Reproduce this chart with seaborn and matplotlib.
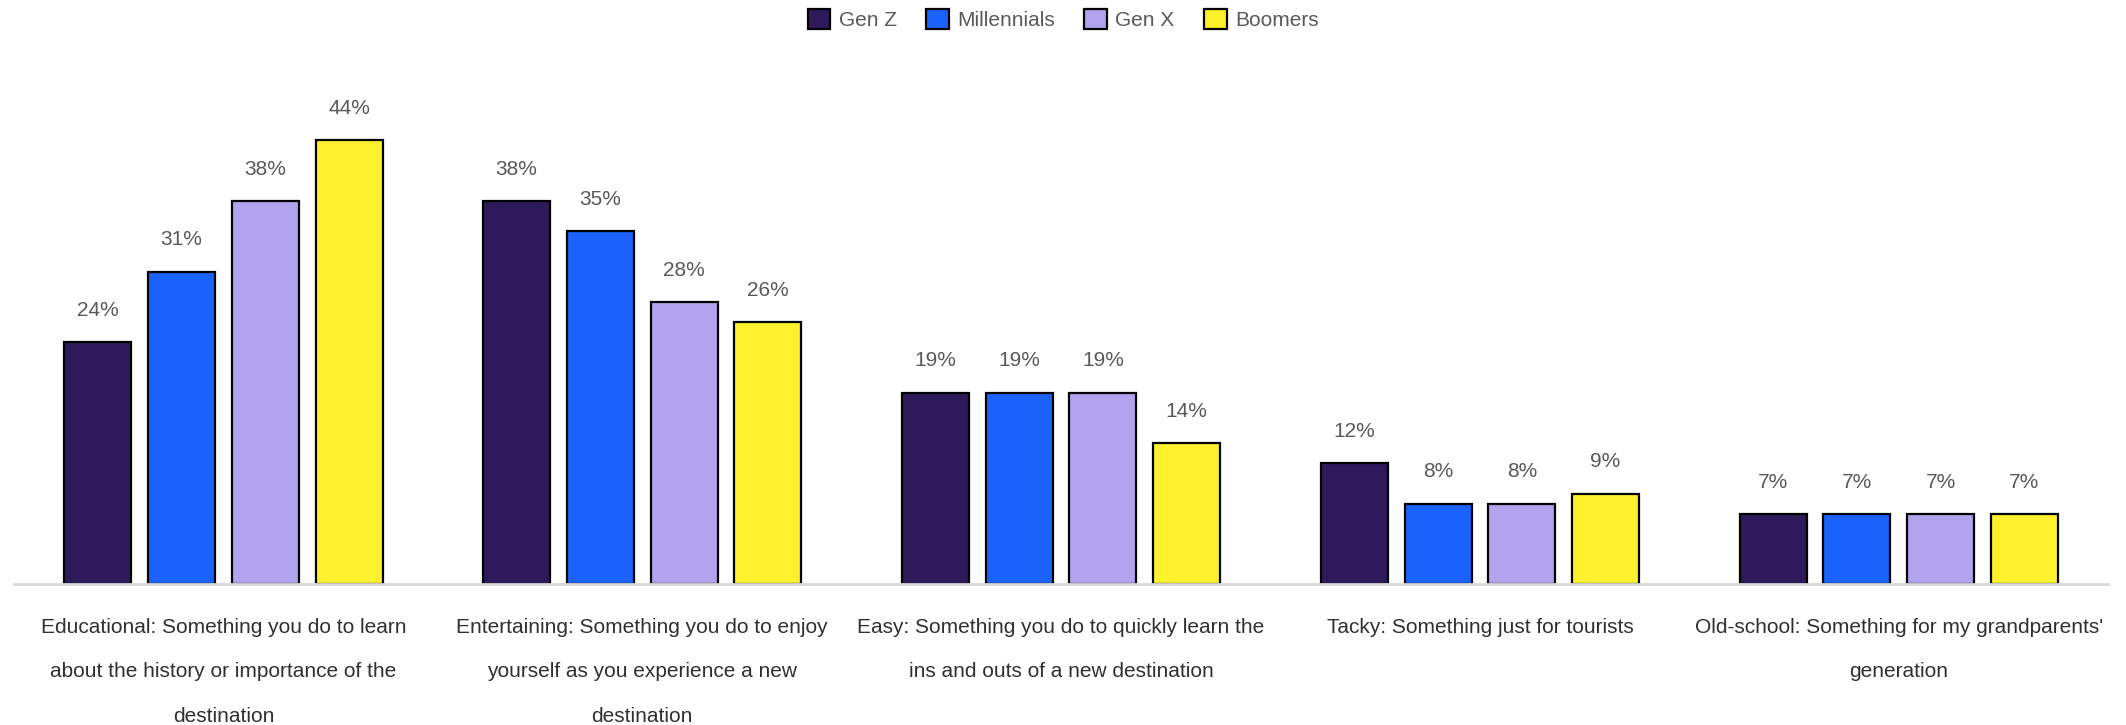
import pandas as pd
import matplotlib
matplotlib.use("Agg")
import matplotlib.pyplot as plt
import seaborn as sns

categories = [
    "Educational: Something you do to learn\nabout the history or importance of the\ndestination",
    "Entertaining: Something you do to enjoy\nyourself as you experience a new\ndestination",
    "Easy: Something you do to quickly learn the\nins and outs of a new destination",
    "Tacky: Something just for tourists",
    "Old-school: Something for my grandparents'\ngeneration",
]
generations = ["Gen Z", "Millennials", "Gen X", "Boomers"]
gen_z = [24, 38, 19, 12, 7]
millennials = [31, 35, 19, 8, 7]
gen_x = [38, 28, 19, 8, 7]
boomers = [44, 26, 14, 9, 7]
colors = ["#2E1A5A", "#1A62FA", "#B1A3EE", "#FFF12E"]

rows = []
for gen, vals in zip(generations, [gen_z, millennials, gen_x, boomers]):
    for cat, v in zip(categories, vals):
        rows.append({"Category": cat, "Generation": gen, "Value": v})
df = pd.DataFrame(rows)

sns.set_style("white")
plt.rcParams["font.family"] = ["Liberation Sans", "DejaVu Sans"]
text_gray = "#595959"

fig = plt.figure(figsize=(21.26, 7.25), dpi=100)
ax = fig.add_axes([0.0066, 0.194, 0.985, 0.668])

sns.barplot(data=df, x="Category", y="Value", hue="Generation",
            hue_order=generations, palette=colors, saturation=1,
            width=0.8, gap=0.2, edgecolor="black", linewidth=1.6,
            ax=ax, legend=True)

for cont in ax.containers:
    ax.bar_label(cont, labels=[f"{int(v)}%" for v in cont.datavalues],
                 padding=16, fontsize=15, color=text_gray)

ax.set_xlim(-0.5, 4.5)
ax.set_ylim(0, 48)
ax.set_xlabel("")
ax.set_ylabel("")
ax.set_yticks([])
for s in ["top", "right", "left"]:
    ax.spines[s].set_visible(False)
ax.spines["bottom"].set_color("#D9D9D9")
ax.spines["bottom"].set_linewidth(2)
ax.tick_params(axis="x", length=0, pad=24, labelsize=15, labelcolor="#303030")
for lab in ax.get_xticklabels():
    lab.set_linespacing(2.7)
    lab.set_verticalalignment("top")

handles, labels = ax.get_legend_handles_labels()
ax.legend(handles, labels, loc="upper center", bbox_to_anchor=(0.5, 1.0),
          bbox_transform=fig.transFigure, ncol=4, frameon=False,
          fontsize=15, labelcolor=text_gray, handlelength=1.1,
          handleheight=1.1, handletextpad=0.4, columnspacing=1.4,
          borderaxespad=0.25, borderpad=0.2)

fig.savefig("out.png", dpi=100)
